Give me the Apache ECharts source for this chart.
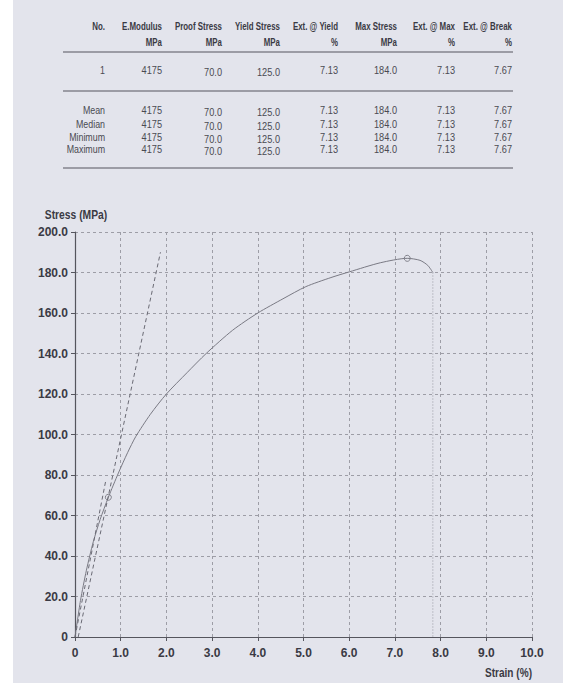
<!DOCTYPE html>
<html lang="en">
<head>
    <meta charset="utf-8">
    <title>Tensile test</title>
    <script src="https://cdn.jsdelivr.net/npm/echarts@6/dist/echarts.min.js"></script>
    <style>
        html, body {margin: 0; padding: 0; background: #fff;}
        #main {width: 563px; height: 683px;}
    </style>
</head>
<body>
<div id="main"></div>
<script type="text/javascript">
    // table
    var headTop = ['No.', 'E.Modulus', 'Proof Stress', 'Yield Stress', 'Ext. @ Yield', 'Max Stress', 'Ext. @ Max', 'Ext. @ Break'];
    var headUnit = ['', 'MPa', 'MPa', 'MPa', '%', 'MPa', '%', '%'];
    var rowNames = ['1', 'Mean', 'Median', 'Minimum', 'Maximum'];
    var resultValues = ['4175', '70.0', '125.0', '7.13', '184.0', '7.13', '7.67'];

    // curve (strain %, stress MPa)
    var curveStrain = [0, 0.12, 0.25, 0.4, 0.55, 0.73, 0.95, 1.15, 1.33, 1.65, 2.0, 2.45, 2.87, 3.45, 4.0, 4.55, 5.05, 5.6, 6.0, 6.68, 7.27, 7.55, 7.72, 7.83];
    var curveStress = [0, 18, 33, 47, 58, 69, 81, 91, 99, 110, 120, 130.5, 140, 151.5, 160, 167, 173, 177.5, 180.3, 184.8, 187, 186, 183.5, 180];
    var dropStrain = [7.83, 7.83];
    var dropStress = [180, 0];
    var modStrain = [0.07, 1.87];
    var modStress = [0, 190];
    var tangStrain = [0, 0.68];
    var tangStress = [0, 78];
    var markStrain = [0.73, 7.27];
    var markStress = [69, 187];

    var xTicks = ['0', '1.0', '2.0', '3.0', '4.0', '5.0', '6.0', '7.0', '8.0', '9.0', '10.0'];
    var yTicks = ['0', '20.0', '40.0', '60.0', '80.0', '100.0', '120.0', '140.0', '160.0', '180.0', '200.0'];

    function pairs(xs, ys) {
        var out = [];
        for (var i = 0; i < xs.length; i++) out.push([xs[i], ys[i]]);
        return out;
    }

    var colRight = [105, 162, 222, 280, 338, 397, 455, 512];
    var rowY = [70, 110, 124, 137, 149];
    var labelFont = 'Liberation Sans Narrow, Liberation Sans, sans-serif';

    function cell(txt, x, y, bold, size, sx) {
        return {
            type: 'text', x: x, y: y, scaleX: sx, z: 10,
            style: {
                text: txt, textAlign: 'right', textVerticalAlign: 'middle',
                fill: bold ? '#3a3a44' : '#4a4a52',
                font: (bold ? 'bold ' : '') + size + 'px Liberation Sans, sans-serif'
            }
        };
    }

    var graphics = [
        {type: 'rect', shape: {x: 13, y: 0, width: 550, height: 683}, style: {fill: '#e3e4ec'}, z: -10}
    ];
    headTop.forEach(function (h, i) {
        graphics.push(cell(h, colRight[i], 26, true, 11, 0.72));
        if (headUnit[i]) graphics.push(cell(headUnit[i], colRight[i], 43, true, 10.5, 0.75));
    });
    rowNames.forEach(function (r, j) {
        graphics.push(cell(r, colRight[0], rowY[j], false, 11.5, 0.77));
        resultValues.forEach(function (v, i) {
            graphics.push(cell(v, colRight[i + 1], rowY[j] + (i === 1 || i === 2 ? 2 : 0), false, 11.5, 0.8));
        });
    });
    [52, 91, 168].forEach(function (y) {
        graphics.push({type: 'line', shape: {x1: 63, y1: y, x2: 513, y2: y}, style: {stroke: '#84848e', lineWidth: 1.3}});
    });
    graphics.push({
        type: 'text', x: 532, y: 673, scaleX: 0.84,
        style: {text: 'Strain (%)', textAlign: 'right', textVerticalAlign: 'middle', fill: '#3a3a44', font: 'bold 12px Liberation Sans, sans-serif'}
    });
    graphics.push({
        type: 'text', x: 76, y: 215, scaleX: 0.86,
        style: {text: 'Stress (MPa)', textAlign: 'center', textVerticalAlign: 'middle', fill: '#3a3a44', font: 'bold 12px Liberation Sans, sans-serif'}
    });

    var myChart = echarts.init(document.getElementById('main'), null, {renderer: 'svg'});
    var option = {
        backgroundColor: '#ffffff',
        animation: false,
        graphic: graphics,
        grid: {left: 75, right: 31, top: 232, bottom: 46},
        xAxis: {
            type: 'value', min: 0, max: 10, interval: 1,
            axisLine: {lineStyle: {color: '#55555d', width: 1.2}},
            axisTick: {show: true, length: 4, lineStyle: {color: '#55555d'}},
            axisLabel: {
                margin: 10, color: '#3a3a44', fontWeight: 'bold', fontSize: 12, fontFamily: labelFont,
                formatter: function (v) { return xTicks[Math.round(v)]; }
            },
            splitLine: {show: true, lineStyle: {type: [3, 3], color: '#9d9da6', width: 1}}
        },
        yAxis: {
            type: 'value', min: 0, max: 200, interval: 20,
            axisLine: {show: true, lineStyle: {color: '#55555d', width: 1.2}},
            axisTick: {show: true, length: 4, lineStyle: {color: '#55555d'}},
            axisLabel: {
                margin: 7, color: '#3a3a44', fontWeight: 'bold', fontSize: 12, fontFamily: labelFont,
                formatter: function (v) { return yTicks[Math.round(v / 20)]; }
            },
            splitLine: {show: true, lineStyle: {type: [3, 3], color: '#9d9da6', width: 1}}
        },
        series: [
            {
                type: 'line', data: pairs(curveStrain, curveStress), smooth: 0.25,
                symbol: 'none', lineStyle: {color: '#7a7a84', width: 1}
            },
            {
                type: 'line', data: pairs(dropStrain, dropStress),
                symbol: 'none', lineStyle: {color: '#9a9aa2', width: 1, type: [1, 2]}
            },
            {
                type: 'line', data: pairs(modStrain, modStress),
                symbol: 'none', lineStyle: {color: '#6a6a74', width: 1, type: [4, 3]}
            },
            {
                type: 'line', data: pairs(tangStrain, tangStress),
                symbol: 'none', lineStyle: {color: '#6a6a74', width: 1, type: [4, 3]}
            },
            {
                type: 'scatter', data: pairs(markStrain, markStress),
                symbol: 'circle', symbolSize: 6,
                itemStyle: {color: 'rgba(0,0,0,0)', borderColor: '#6a6a74', borderWidth: 1}
            }
        ]
    };
    myChart.setOption(option);
</script>
</body>
</html>
